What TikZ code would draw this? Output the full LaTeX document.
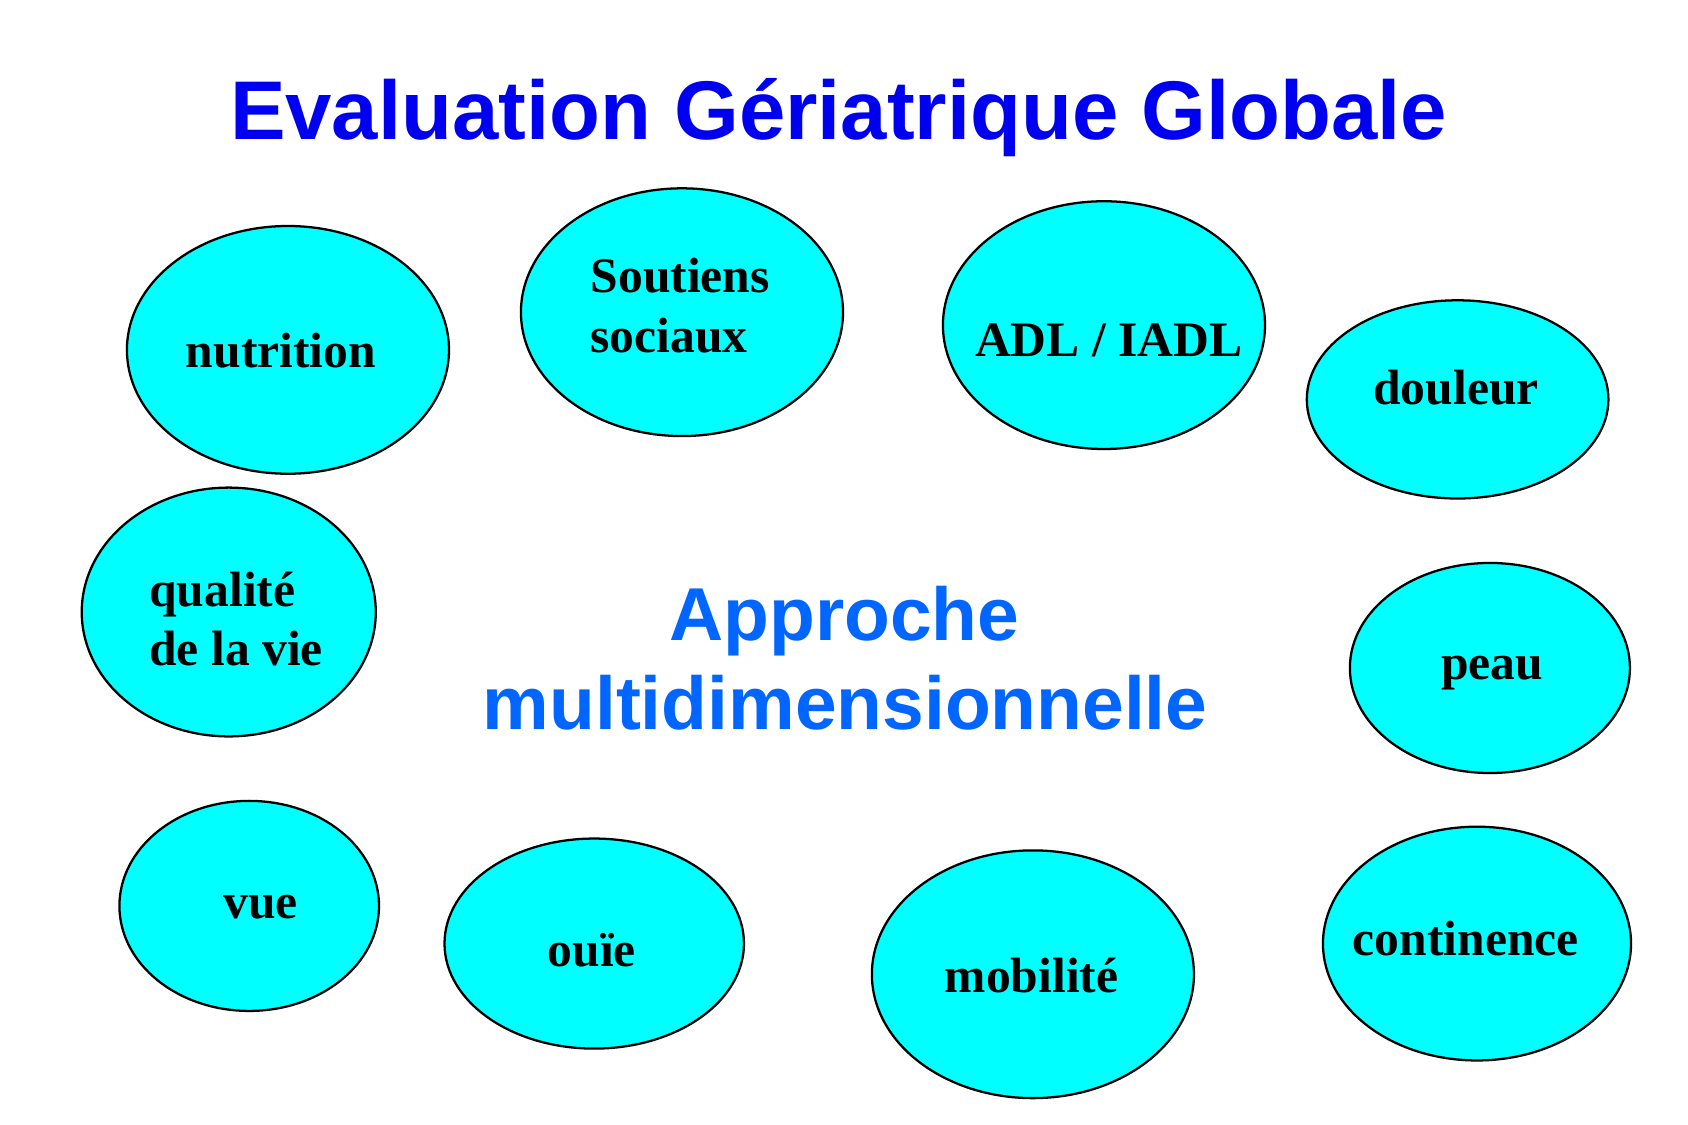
\documentclass[tikz,border=0pt]{standalone}
\usepackage{fontspec}
\setmainfont{Liberation Serif}
\newfontfamily\arialfont{Liberation Sans}
\usetikzlibrary{shapes.geometric}
\definecolor{titleblue}{RGB}{0,0,240}
\definecolor{subblue}{RGB}{0,102,255}
\definecolor{bubcyan}{RGB}{0,255,255}
\tikzset{
  bub/.style={ellipse, draw=black, fill=bubcyan, line width=0.6pt, inner sep=0pt},
  lab/.style={anchor=base west, inner sep=0pt, font=\bfseries\fontsize{13.1}{15}\selectfont},
  bigtitle/.style={anchor=base, inner sep=0pt, text=titleblue, font=\arialfont\bfseries\fontsize{22}{26}\selectfont},
  subtitle/.style={anchor=base, inner sep=0pt, text=subblue, font=\arialfont\bfseries\fontsize{19.8}{24}\selectfont}
}
\begin{document}
\begin{tikzpicture}[x=0.01cm, y=-0.01cm]
\useasboundingbox (0,0) rectangle (1568,1045);
\fill[white] (0,0) rectangle (1568,1045);
% title
\node[bigtitle] (title) at (779,130) {Evaluation Gériatrique Globale};
% ellipses
\node[bub, minimum width=2.99cm, minimum height=2.30cm] (nutrition) at (267.5,325) {};
\node[bub, minimum width=2.99cm, minimum height=2.30cm] (soutiens) at (633.5,290) {};
\node[bub, minimum width=2.99cm, minimum height=2.30cm] (adl) at (1025.5,302) {};
\node[bub, minimum width=2.80cm, minimum height=1.84cm] (douleur) at (1354,371) {};
\node[bub, minimum width=2.73cm, minimum height=2.31cm] (qualite) at (212.5,568.5) {};
\node[bub, minimum width=2.60cm, minimum height=1.95cm] (peau) at (1384,620.5) {};
\node[bub, minimum width=2.41cm, minimum height=1.95cm] (vue) at (231.5,841.5) {};
\node[bub, minimum width=2.78cm, minimum height=1.95cm] (ouie) at (552,876.5) {};
\node[bub, minimum width=2.99cm, minimum height=2.30cm] (mobilite) at (959.5,905) {};
\node[bub, minimum width=2.86cm, minimum height=2.17cm] (continence) at (1372,876.5) {};
% labels
\node[lab] (tnutrition) at (172,341.5) {nutrition};
\node[lab] (tsoutiens1) at (548,271.5) {Soutiens};
\node[lab] (tsoutiens2) at (548,327.2) {sociaux};
\node[lab] (tadl) at (905,331) {ADL / IADL};
\node[lab] (tdouleur) at (1275,376) {douleur};
\node[lab] (tqualite1) at (138,563) {qualité};
\node[lab] (tqualite2) at (138,618.5) {de la vie};
\node[lab] (tpeau) at (1338,631) {peau};
\node[lab] (tvue) at (207,853) {vue};
\node[lab] (touie) at (508,898) {ouïe};
\node[lab] (tmobilite) at (877,922) {mobilité};
\node[lab] (tcontinence) at (1256,888) {continence};
% centre text
\node[subtitle] (approche) at (784.5,595) {Approche};
\node[subtitle] (multi) at (785,678) {multidimensionnelle};
\end{tikzpicture}
\end{document}
